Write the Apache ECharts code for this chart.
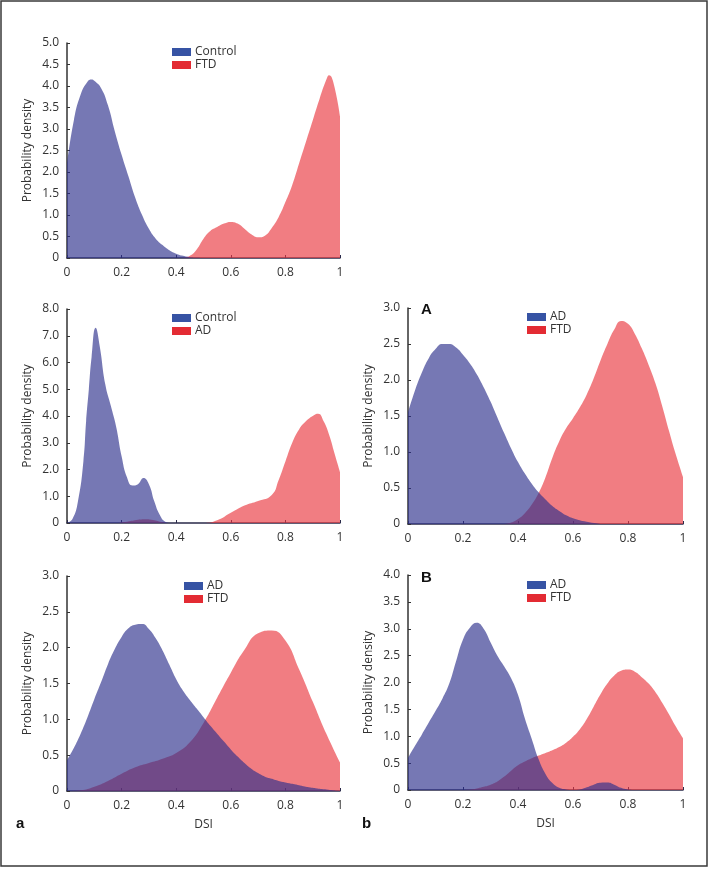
<!DOCTYPE html>
<html>
<head>
<meta charset="utf-8">
<script src="https://cdn.jsdelivr.net/npm/echarts@6/dist/echarts.min.js"></script>
<style>html,body{margin:0;padding:0;background:#fff}#c{width:709px;height:869px}</style>
</head>
<body>
<div id="c"></div>
<script>
// ---- Panel 1: Control vs FTD ----
const p1ControlX = [0,0.025,0.05,0.075,0.09,0.1,0.125,0.15,0.175,0.2,0.225,0.25,0.275,0.3,0.325,0.35,0.375,0.4,0.425,0.45,0.475,0.5];
const p1ControlY = [2.2,3.2,3.8,4.1,4.15,4.12,3.95,3.55,2.95,2.4,1.9,1.4,1.0,0.68,0.45,0.3,0.18,0.1,0.05,0.02,0.005,0];
const p1FtdX = [0.425,0.45,0.475,0.5,0.525,0.55,0.575,0.6,0.625,0.65,0.675,0.7,0.725,0.75,0.775,0.8,0.825,0.85,0.875,0.9,0.925,0.95,0.96,0.975,1.0];
const p1FtdY = [0,0.05,0.2,0.45,0.63,0.72,0.8,0.84,0.8,0.68,0.55,0.48,0.52,0.7,0.95,1.3,1.7,2.2,2.7,3.2,3.7,4.15,4.25,4.1,3.3];

// ---- Panel 2: Control vs AD ----
const p2ControlX = [0,0.02,0.04,0.06,0.07,0.08,0.09,0.105,0.12,0.14,0.16,0.18,0.2,0.22,0.24,0.26,0.28,0.3,0.32,0.34,0.36,0.38];
const p2ControlY = [0,0.15,0.8,2.3,3.8,5.0,6.2,7.3,6.6,5.2,4.4,3.6,2.5,1.7,1.4,1.45,1.68,1.45,0.8,0.3,0.05,0];
const p2AdX = [0.18,0.22,0.26,0.29,0.32,0.35,0.38,0.5,0.55,0.6,0.65,0.7,0.75,0.775,0.8,0.825,0.85,0.875,0.9,0.92,0.94,0.96,0.98,1.0];
const p2AdY = [0,0.05,0.12,0.14,0.1,0.03,0,0,0.1,0.38,0.65,0.82,1.05,1.6,2.3,3.0,3.5,3.8,4.0,4.08,3.8,3.3,2.6,1.9];

// ---- Panel A: AD vs FTD ----
const pAAdX = [0,0.025,0.05,0.075,0.1,0.125,0.15,0.175,0.2,0.225,0.25,0.275,0.3,0.325,0.35,0.375,0.4,0.425,0.45,0.475,0.5,0.525,0.55,0.575,0.6,0.65,0.7];
const pAAdY = [1.55,1.85,2.1,2.3,2.43,2.5,2.5,2.45,2.35,2.23,2.08,1.9,1.7,1.48,1.26,1.05,0.86,0.7,0.56,0.44,0.34,0.25,0.18,0.12,0.08,0.03,0];
const pAFtdX = [0.35,0.375,0.4,0.425,0.45,0.475,0.5,0.525,0.55,0.575,0.6,0.625,0.65,0.675,0.7,0.725,0.75,0.775,0.8,0.825,0.85,0.875,0.9,0.925,0.95,0.975,1.0];
const pAFtdY = [0,0.02,0.07,0.15,0.27,0.43,0.65,0.92,1.15,1.33,1.47,1.62,1.8,2.02,2.27,2.5,2.7,2.82,2.78,2.64,2.44,2.21,1.95,1.63,1.28,0.95,0.65];

// ---- Panel a: AD vs FTD ----
const paAdX = [0,0.025,0.05,0.075,0.1,0.125,0.15,0.175,0.2,0.225,0.25,0.275,0.3,0.325,0.35,0.375,0.4,0.425,0.45,0.475,0.5,0.525,0.55,0.575,0.6,0.625,0.65,0.675,0.7,0.725,0.75,0.775,0.8,0.825,0.85,0.875,0.9,0.925,0.95,0.975,1.0];
const paAdY = [0.43,0.6,0.8,1.03,1.28,1.52,1.77,1.98,2.15,2.27,2.32,2.33,2.26,2.13,1.96,1.76,1.56,1.4,1.27,1.15,1.03,0.91,0.8,0.69,0.58,0.48,0.39,0.31,0.25,0.2,0.17,0.14,0.12,0.1,0.08,0.06,0.045,0.03,0.02,0.01,0.005];
const paFtdX = [0,0.05,0.1,0.15,0.2,0.25,0.3,0.35,0.4,0.45,0.5,0.55,0.6,0.65,0.7,0.75,0.8,0.85,0.9,0.95,1.0];
const paFtdY = [0,0.01,0.06,0.14,0.24,0.33,0.39,0.45,0.53,0.68,0.95,1.3,1.65,1.97,2.2,2.24,2.1,1.7,1.25,0.8,0.4];

// ---- Panel b: AD vs FTD ----
const pbAdX = [0,0.025,0.05,0.075,0.1,0.125,0.15,0.175,0.2,0.225,0.25,0.275,0.3,0.325,0.35,0.375,0.4,0.425,0.45,0.475,0.5,0.525,0.55,0.575,0.6,0.625,0.65,0.675,0.7,0.725,0.75,0.775,0.8,0.825];
const pbAdY = [0.6,0.82,1.03,1.25,1.47,1.7,1.98,2.4,2.8,3.02,3.11,3.0,2.75,2.5,2.3,2.08,1.77,1.33,0.95,0.57,0.3,0.13,0.04,0.01,0,0.01,0.05,0.1,0.135,0.14,0.1,0.04,0.01,0];
const pbFtdX = [0.2,0.225,0.25,0.275,0.3,0.325,0.35,0.375,0.4,0.425,0.45,0.475,0.5,0.525,0.55,0.575,0.6,0.625,0.65,0.675,0.7,0.725,0.75,0.775,0.8,0.825,0.85,0.875,0.9,0.925,0.95,0.975,1.0];
const pbFtdY = [0,0.01,0.03,0.06,0.1,0.16,0.25,0.36,0.46,0.53,0.59,0.64,0.69,0.74,0.8,0.88,0.99,1.13,1.32,1.55,1.78,1.98,2.13,2.22,2.24,2.2,2.1,1.98,1.82,1.62,1.4,1.17,0.96];

const xTicks = ['0','0.2','0.4','0.6','0.8','1'];

const FONT = 'Open Sans';
const TXT = '#333';
const BLUE_FILL = '#2d2f8c', RED_FILL = '#ea373f';
const BLUE_KEY = '#3653a4', RED_KEY = '#e32b33';

function pairs(xs, ys){ return xs.map((x,i)=>[x, ys[i]]); }

const grids = [
  {left:67, top:43, width:273, height:215},
  {left:67, top:309, width:273, height:214},
  {left:408, top:308, width:275, height:216},
  {left:67, top:576, width:273, height:215},
  {left:408, top:575, width:275, height:215}
];
const yMax = [5, 8, 3, 3, 4];
const yInt = [0.5, 1, 0.5, 0.5, 0.5];
const panels = [
  {blue:['Control', p1ControlX, p1ControlY], red:['FTD', p1FtdX, p1FtdY]},
  {blue:['Control', p2ControlX, p2ControlY], red:['AD', p2AdX, p2AdY]},
  {blue:['AD', pAAdX, pAAdY], red:['FTD', pAFtdX, pAFtdY]},
  {blue:['AD', paAdX, paAdY], red:['FTD', paFtdX, paFtdY]},
  {blue:['AD', pbAdX, pbAdY], red:['FTD', pbFtdX, pbFtdY]}
];
const legendPos = [
  {left:172, top:46}, {left:172, top:312}, {left:527, top:311}, {left:184, top:580}, {left:527, top:579}
];

const xAxis = grids.map((g,i)=>({
  type:'value', gridIndex:i, min:0, max:1, interval:0.2,
  name: (i>=3 ? 'DSI' : ''), nameLocation:'middle', nameGap:28,
  nameTextStyle:{fontFamily:FONT, fontSize:12, color:TXT},
  axisLine:{show:true, lineStyle:{color:'#2a2a4a', width:1.5}},
  axisTick:{show:true, inside:true, length:3, lineStyle:{color:'#2a2a4a'}},
  axisLabel:{margin:9, fontFamily:FONT, fontSize:12, color:TXT,
    formatter:(v)=> xTicks[Math.round(v/0.2)]},
  splitLine:{show:false}
}));
const yAxis = grids.map((g,i)=>({
  type:'value', gridIndex:i, min:0, max:yMax[i], interval:yInt[i],
  name:'Probability density', nameLocation:'middle', nameGap:33,
  nameTextStyle:{fontFamily:FONT, fontSize:12, color:TXT},
  axisLine:{show:true, lineStyle:{color:'#333', width:1.5}},
  axisTick:{show:true, inside:true, length:3, lineStyle:{color:'#333'}},
  axisLabel:{margin:8, fontFamily:FONT, fontSize:12, color:TXT,
    formatter:(v)=> v===0 ? '0' : v.toFixed(1)},
  splitLine:{show:false}
}));

const series = [];
panels.forEach((p,i)=>{
  [['red',RED_FILL],['blue',BLUE_FILL]].forEach(([k,col])=>{
    const s = p[k];
    series.push({
      type:'line', name:s[0], xAxisIndex:i, yAxisIndex:i,
      data:pairs(s[1], s[2]), smooth:0.5,
      showSymbol:false, silent:true, clip:true,
      lineStyle:{width:1, color:col, opacity:0}, itemStyle:{color:col},
      areaStyle:{color:col, opacity:0.65},
      z: k==='blue' ? 3 : 2
    });
  });
});

const legend = panels.map((p,i)=>({
  show:true, orient:'vertical', left:legendPos[i].left, top:legendPos[i].top,
  itemWidth:19, itemHeight:8, itemGap:1, padding:0, icon:'rect', selectedMode:false,
  textStyle:{fontFamily:FONT, fontSize:12, color:TXT, lineHeight:10, padding:[0,0,0,-1]},
  data:[{name:p.blue[0], itemStyle:{color:BLUE_KEY}}, {name:p.red[0], itemStyle:{color:RED_KEY}}]
}));

const titles = [
  {text:'A', left:421, top:302},
  {text:'B', left:421, top:570},
  {text:'a', left:16, top:816},
  {text:'b', left:362, top:816}
].map(t=>({text:t.text, left:t.left, top:t.top, padding:0,
  textStyle:{fontFamily:'Liberation Sans', fontSize:15, fontWeight:'bold', color:'#111'}}));

const chart = echarts.init(document.getElementById('c'), null, {renderer:'canvas'});
chart.setOption({
  animation:false,
  backgroundColor:'#fff',
  title:titles,
  grid:grids,
  xAxis:xAxis,
  yAxis:yAxis,
  legend:legend,
  series:series,
  graphic:[{type:'rect', shape:{x:1, y:1, width:706, height:865},
    style:{fill:'none', stroke:'#3a3a3a', lineWidth:1.5}, silent:true, z:100}]
});
</script>
</body>
</html>
